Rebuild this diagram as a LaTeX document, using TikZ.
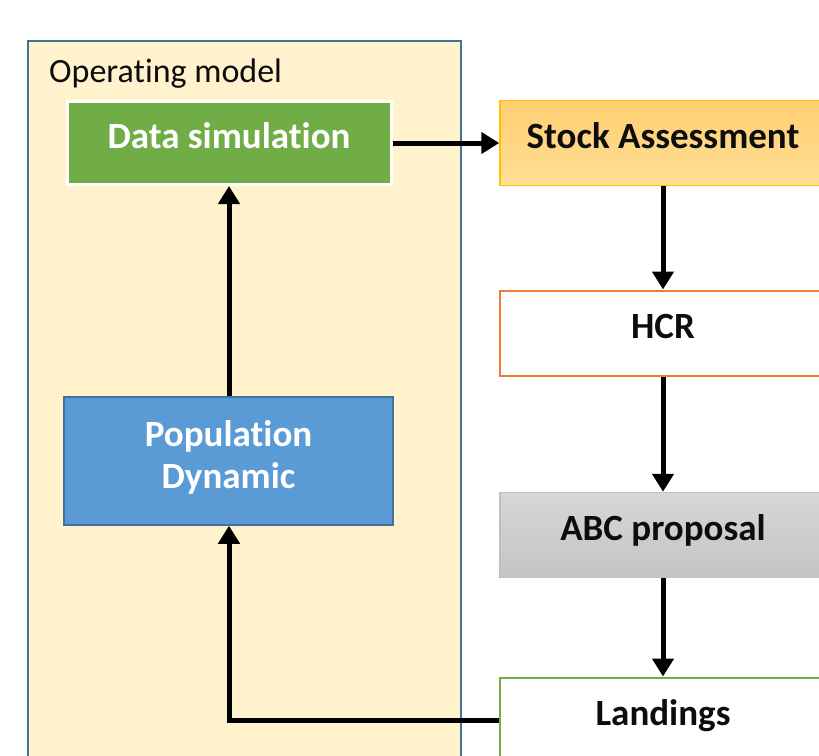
\documentclass[tikz,border=0pt]{standalone}
\usepackage{fontspec}
\setmainfont{Carlito}[Ligatures=NoCommon]
\usetikzlibrary{arrows.meta}
\definecolor{cream}{HTML}{FFF2CC}
\definecolor{omborder}{HTML}{41719C}
\definecolor{simgreen}{HTML}{70AD47}
\definecolor{stockfill}{HTML}{FFD77D}
\definecolor{stockborder}{HTML}{FFC000}
\definecolor{hcrborder}{HTML}{ED7D31}
\definecolor{abcfill}{HTML}{CFCFCF}
\definecolor{abcborder}{HTML}{BFBFBF}
\definecolor{popblue}{HTML}{5B9BD5}
\definecolor{txtblack}{HTML}{0D0D0D}
\tikzset{
  boxbase/.style={rectangle, minimum width=326pt, minimum height=85pt, inner sep=0pt,
    font=\fontsize{37}{42}\selectfont\bfseries, align=center, text depth=14pt},
  simbox/.style={boxbase, fill=simgreen, draw=white, line width=3pt, text=white, minimum width=324pt, minimum height=83pt},
  stockbox/.style={boxbase, top color=stockfill!90!orange, bottom color=stockfill!80!white, draw=stockborder, line width=1.5pt, text=txtblack},
  hcrbox/.style={boxbase, fill=white, draw=hcrborder, line width=2pt, text=txtblack},
  abcbox/.style={boxbase, top color=abcfill!85!white, bottom color=abcfill!95!black, draw=abcborder, line width=1.5pt, text=txtblack},
  landbox/.style={boxbase, fill=white, draw=simgreen, line width=2pt, text=txtblack},
  popbox/.style={boxbase, fill=popblue, draw=omborder, line width=1.5pt, text=white, minimum width=329pt, minimum height=128pt, text depth=12pt},
  flow/.style={line width=5pt, -{Triangle[width=21pt,length=18pt]}},
}
\begin{document}
\begin{tikzpicture}[x=1pt,y=-1pt]
\useasboundingbox (0,0) rectangle (819,755);
\clip (0,0) rectangle (819,755);
\fill[white] (0,0) rectangle (819,755);
\node[draw=omborder, fill=cream, line width=2pt, rectangle, minimum width=433pt, minimum height=760pt, anchor=north west, inner sep=0pt] (om) at (27,40) {};
\node[anchor=base west, inner sep=0pt, font=\fontsize{34}{40}\selectfont, text=txtblack] (omlabel) at (49,82) {Operating model};
\node[simbox] (sim) at (229,143) {Data simulation};
\node[popbox] (pop) at (228.5,461) {Population\\Dynamic};
\node[stockbox] (stock) at (663,143) {Stock Assessment};
\node[hcrbox] (hcr) at (663,333) {HCR};
\node[abcbox] (abc) at (663,535) {ABC proposal};
\node[landbox] (land) at (663,720) {Landings};
\draw[flow] (sim.east) -- (stock.west);
\draw[flow] (stock.south) -- (hcr.north);
\draw[flow] (hcr.south) -- (abc.north);
\draw[flow] (abc.south) -- (land.north);
\draw[flow] (pop.north -| 229,0) -- (sim.south -| 229,0);
\draw[flow] (land.west) -- (229,720) -- (pop.south -| 229,0);
\end{tikzpicture}
\end{document}
